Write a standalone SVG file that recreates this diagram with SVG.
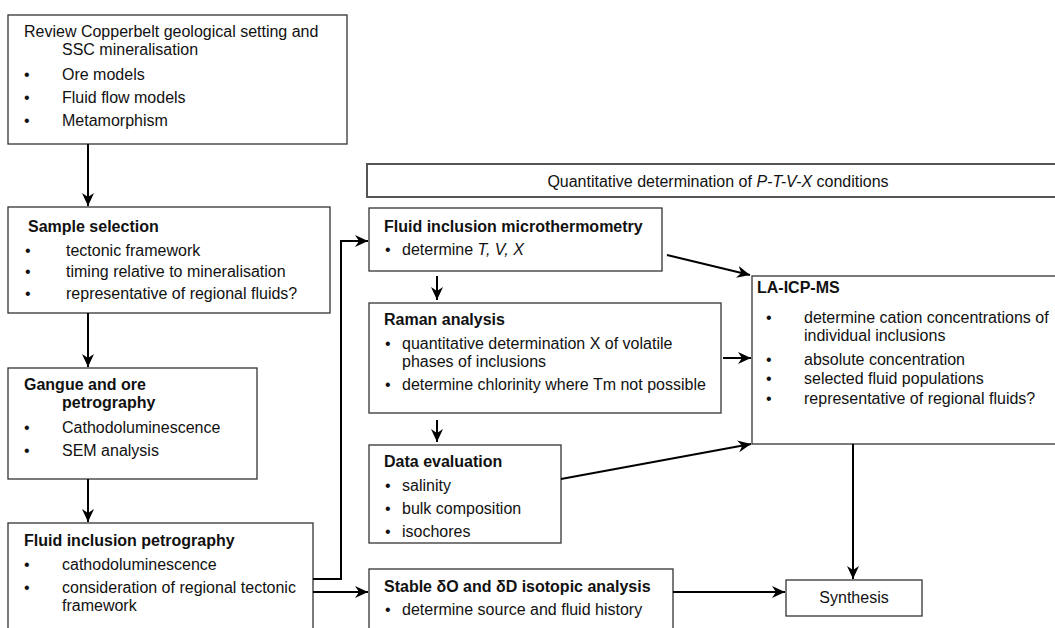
<svg xmlns="http://www.w3.org/2000/svg" width="1055" height="628" viewBox="0 0 1055 628">
<style>
text{font-family:"Liberation Sans",Arial,sans-serif;font-size:16px;fill:#111}
.b{font-weight:bold}
.box{fill:#fff;stroke:#333;stroke-width:1.3}
.top{fill:#fff;stroke:#555;stroke-width:2}
.c{fill:none;stroke:#000;stroke-width:2}
</style>
<defs>
<marker id="ah" markerUnits="userSpaceOnUse" markerWidth="14" markerHeight="12" refX="13" refY="6" orient="auto">
<path d="M0,0 L13,6 L0,12 L4,6 z" fill="#000"/>
</marker>
</defs>
<rect width="1055" height="628" fill="#fff"/>

<g id="review">
<rect class="box" x="8" y="15" width="339" height="129"/>
<text x="24" y="37">Review Copperbelt geological setting and</text>
<text x="62" y="55">SSC mineralisation</text>
<text x="24" y="80">•</text><text x="62" y="80">Ore models</text>
<text x="24" y="103">•</text><text x="62" y="103">Fluid flow models</text>
<text x="24" y="126">•</text><text x="62" y="126">Metamorphism</text>
</g>

<g id="sample">
<rect class="box" x="8" y="207" width="322" height="106"/>
<text class="b" x="28" y="232">Sample selection</text>
<text x="25" y="256">•</text><text x="66" y="256">tectonic framework</text>
<text x="25" y="277">•</text><text x="66" y="277">timing relative to mineralisation</text>
<text x="25" y="299">•</text><text x="66" y="299">representative of regional fluids?</text>
</g>

<g id="gangue">
<rect class="box" x="8" y="368" width="249" height="111"/>
<text class="b" x="24" y="390">Gangue and ore</text>
<text class="b" x="62" y="408">petrography</text>
<text x="24" y="433">•</text><text x="62" y="433">Cathodoluminescence</text>
<text x="24" y="456">•</text><text x="62" y="456">SEM analysis</text>
</g>

<g id="fip">
<rect class="box" x="8" y="523" width="305" height="130"/>
<text class="b" x="24" y="546">Fluid inclusion petrography</text>
<text x="24" y="570">•</text><text x="62" y="570">cathodoluminescence</text>
<text x="24" y="593">•</text><text x="62" y="593">consideration of regional tectonic</text>
<text x="62" y="611">framework</text>
</g>

<g id="quant">
<rect class="top" x="367" y="164" width="720" height="33"/>
<text x="718" y="187" text-anchor="middle">Quantitative determination of <tspan font-style="italic">P-T-V-X</tspan> conditions</text>
</g>

<g id="micro">
<rect class="box" x="369" y="208" width="293" height="63"/>
<text class="b" x="384" y="232">Fluid inclusion microthermometry</text>
<text x="385" y="255">•</text><text x="402" y="255">determine <tspan font-style="italic">T, V, X</tspan></text>
</g>

<g id="raman">
<rect class="box" x="369" y="303" width="352" height="110"/>
<text class="b" x="384" y="325">Raman analysis</text>
<text x="385" y="349">•</text><text x="402" y="349">quantitative determination X of volatile</text>
<text x="402" y="367">phases of inclusions</text>
<text x="385" y="390">•</text><text x="402" y="390">determine chlorinity where Tm not possible</text>
</g>

<g id="data">
<rect class="box" x="369" y="445" width="192" height="98"/>
<text class="b" x="384" y="467">Data evaluation</text>
<text x="385" y="491">•</text><text x="402" y="491">salinity</text>
<text x="385" y="514">•</text><text x="402" y="514">bulk composition</text>
<text x="385" y="537">•</text><text x="402" y="537">isochores</text>
</g>

<g id="stable">
<rect class="box" x="369" y="569" width="304" height="80"/>
<text class="b" x="384" y="592">Stable δO and δD isotopic analysis</text>
<text x="385" y="615">•</text><text x="402" y="615">determine source and fluid history</text>
</g>

<g id="laicpms">
<rect class="box" x="752" y="276" width="320" height="168"/>
<text class="b" x="757" y="293">LA-ICP-MS</text>
<text x="766" y="323">•</text><text x="804" y="323">determine cation concentrations of</text>
<text x="804" y="341">individual inclusions</text>
<text x="766" y="365">•</text><text x="804" y="365">absolute concentration</text>
<text x="766" y="384">•</text><text x="804" y="384">selected fluid populations</text>
<text x="766" y="404">•</text><text x="804" y="404">representative of regional fluids?</text>
</g>

<g id="synthesis">
<rect class="box" x="786" y="580" width="136" height="36"/>
<text x="854" y="603" text-anchor="middle">Synthesis</text>
</g>

<g id="connectors">
<path class="c" d="M88,144 V206" marker-end="url(#ah)"/>
<path class="c" d="M88,313 V367" marker-end="url(#ah)"/>
<path class="c" d="M88,479 V522" marker-end="url(#ah)"/>
<path class="c" d="M313,579 H341 V241 H368" marker-end="url(#ah)"/>
<path class="c" d="M313,592 H368" marker-end="url(#ah)"/>
<path class="c" d="M437,276 V300" marker-end="url(#ah)"/>
<path class="c" d="M437,420 V442" marker-end="url(#ah)"/>
<path class="c" d="M667,255 L750,275" marker-end="url(#ah)"/>
<path class="c" d="M723,358 H751" marker-end="url(#ah)"/>
<path class="c" d="M561,479 L751,444" marker-end="url(#ah)"/>
<path class="c" d="M673,592 H785" marker-end="url(#ah)"/>
<path class="c" d="M853,444 V579" marker-end="url(#ah)"/>
</g>
</svg>
